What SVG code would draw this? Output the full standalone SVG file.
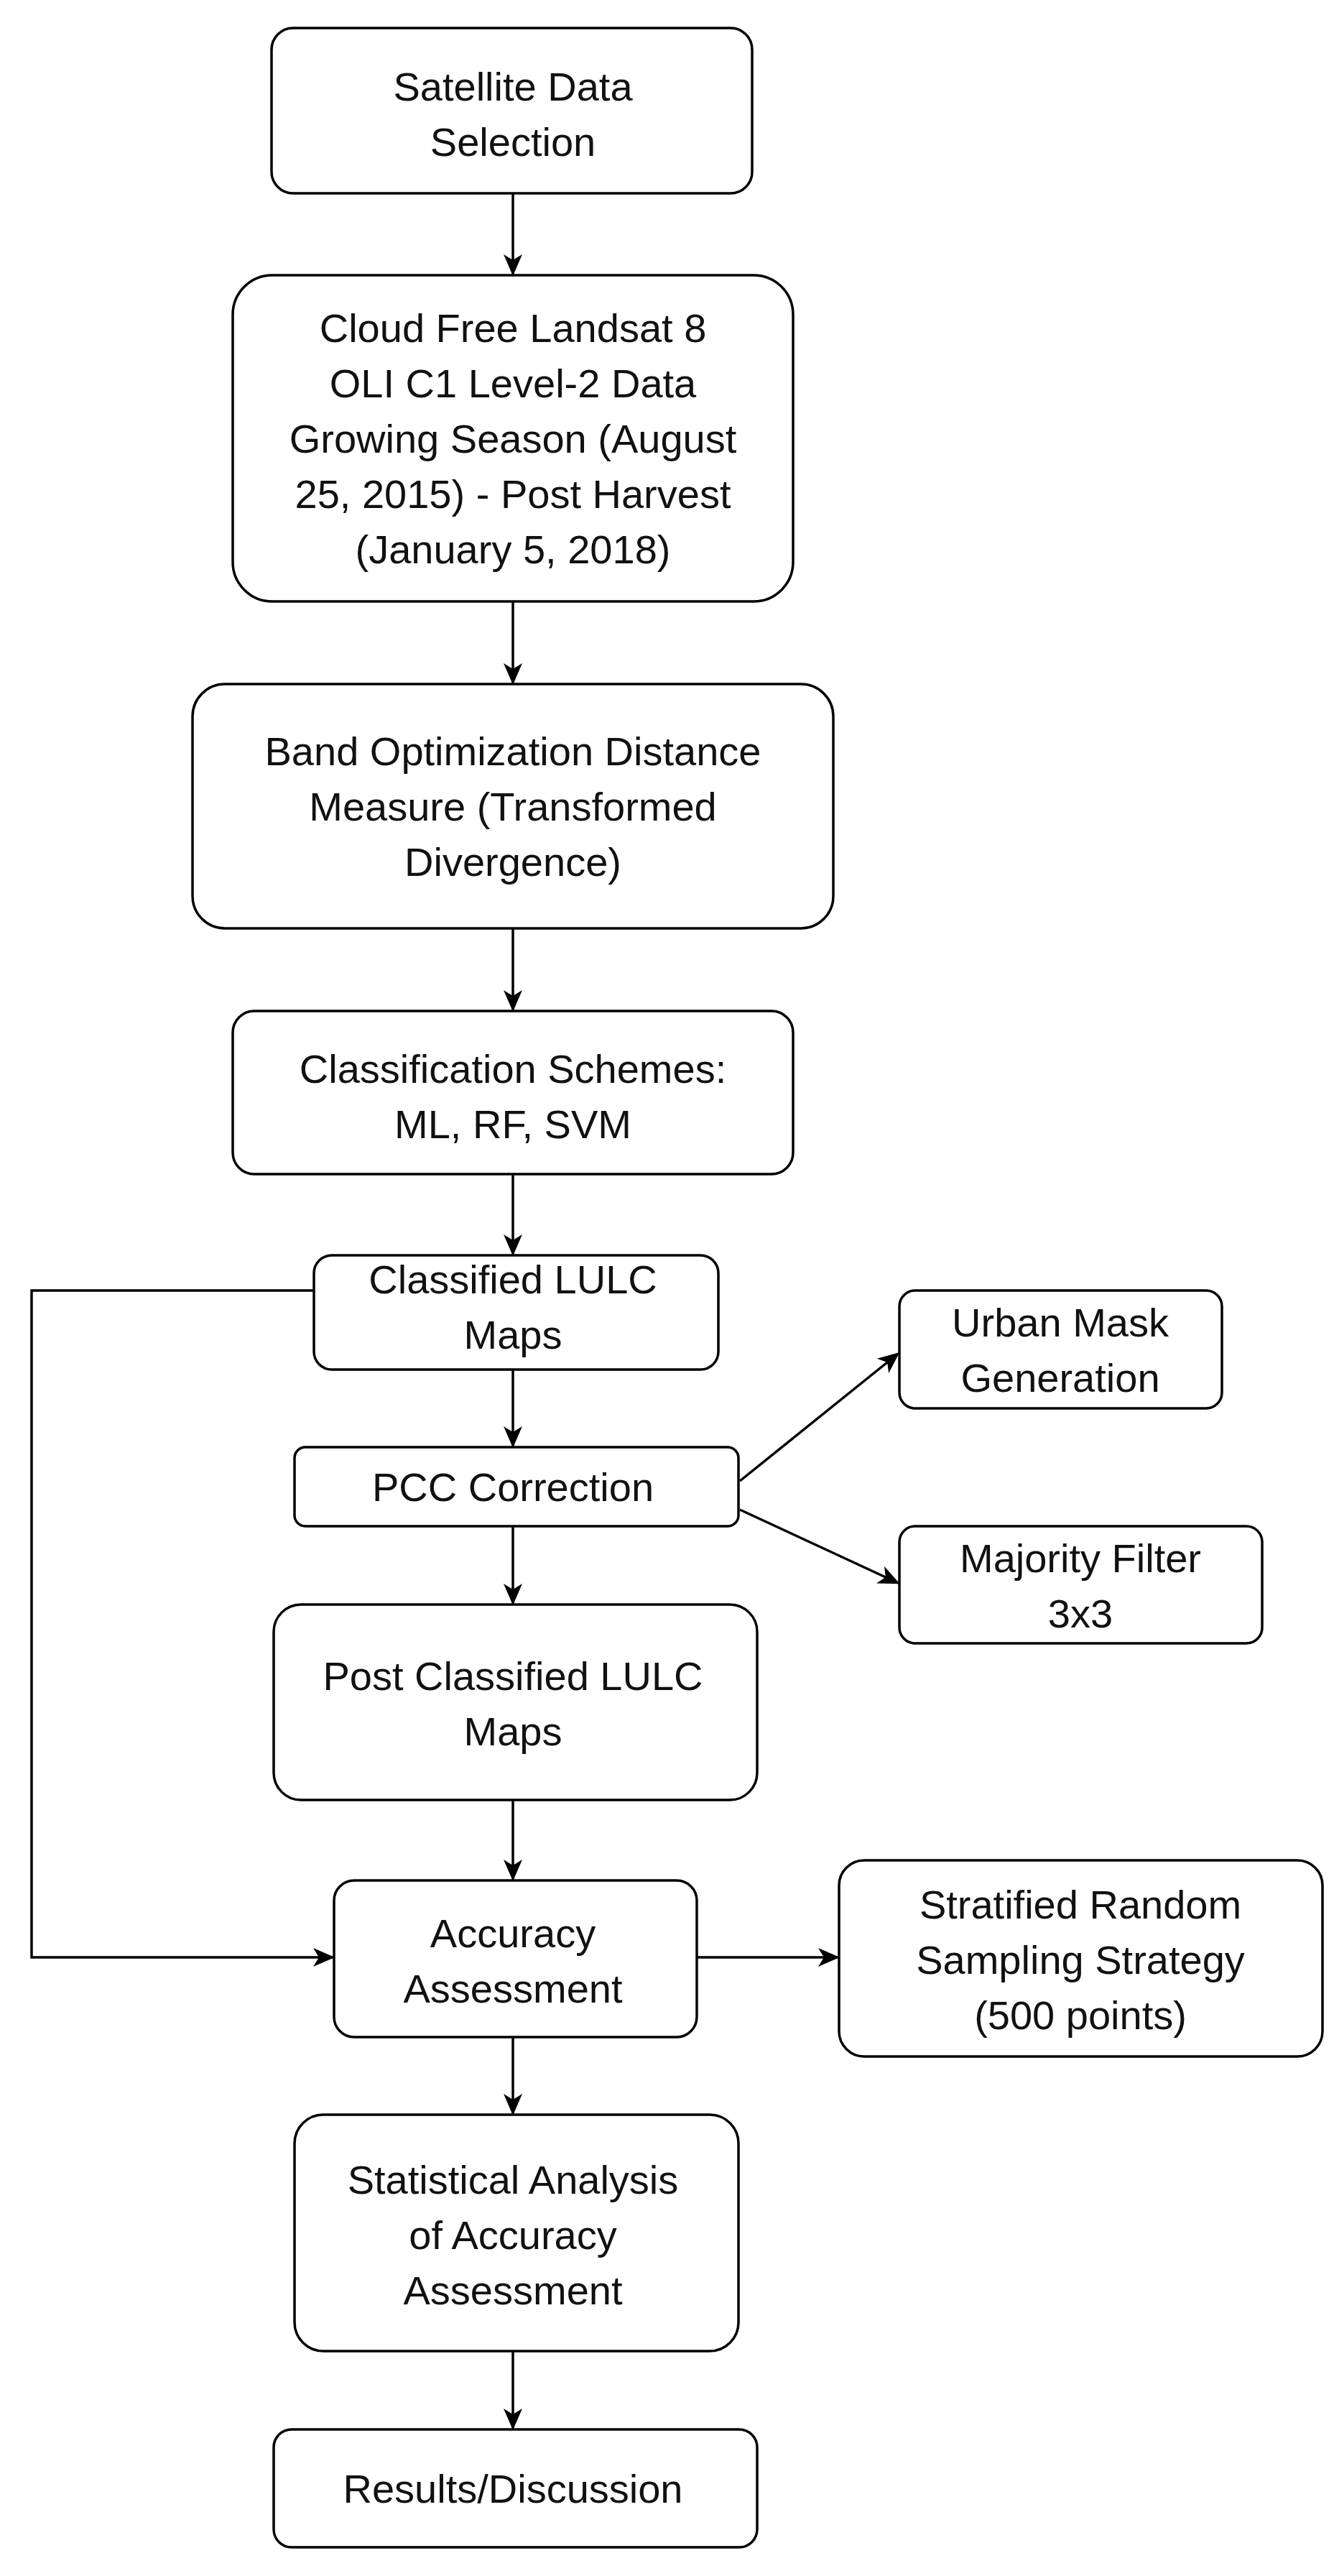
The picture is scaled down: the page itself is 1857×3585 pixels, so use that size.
<svg xmlns="http://www.w3.org/2000/svg" width="1857" height="3585" viewBox="0 0 1857 3585">
<style>
rect{fill:#fff;stroke:#000;stroke-width:3.5}
text{font-family:"Liberation Sans",Arial,sans-serif;font-size:56px;fill:#111;text-anchor:middle}
.c{fill:none;stroke:#000;stroke-width:3.5}
</style>
<defs><marker id="a" markerWidth="10" markerHeight="10" refX="8" refY="5" orient="auto" markerUnits="userSpaceOnUse" viewBox="0 0 10 10"><path d="M0,0 L10,5 L0,10 L3,5z" fill="#000"/></marker>
<marker id="b" markerWidth="30" markerHeight="30" refX="27" refY="15" orient="auto" markerUnits="userSpaceOnUse" viewBox="0 0 30 30"><path d="M0,2 L30,15 L0,28 L8,15z" fill="#000"/></marker></defs>
<rect width="1857" height="3585" style="stroke:none"/>
<g id="connectors">
<path class="c" marker-end="url(#b)" d="M714,269V381"/>
<path class="c" marker-end="url(#b)" d="M714,837V950"/>
<path class="c" marker-end="url(#b)" d="M714,1292V1405"/>
<path class="c" marker-end="url(#b)" d="M714,1634V1745"/>
<path class="c" marker-end="url(#b)" d="M714,1906V2012"/>
<path class="c" marker-end="url(#b)" d="M714,2124V2231"/>
<path class="c" marker-end="url(#b)" d="M714,2505V2615"/>
<path class="c" marker-end="url(#b)" d="M714,2835V2941"/>
<path class="c" marker-end="url(#b)" d="M714,3272V3379"/>
<path class="c" marker-end="url(#b)" d="M437,1796H44V2724H463"/>
<path class="c" marker-end="url(#b)" d="M970,2724H1166"/>
<path class="c" marker-end="url(#b)" d="M1030,2061L1250,1884"/>
<path class="c" marker-end="url(#b)" d="M1030,2101L1250,2203"/>
</g>
<g id="n1"><rect x="378" y="39" width="669" height="230" rx="30"/><text x="714" y="140">Satellite Data</text><text x="714" y="217">Selection</text></g>
<g id="n2"><rect x="324" y="383" width="780" height="454" rx="55"/><text x="714" y="476">Cloud Free Landsat 8</text><text x="714" y="553">OLI C1 Level-2 Data</text><text x="714" y="630">Growing Season (August</text><text x="714" y="707">25, 2015) - Post Harvest</text><text x="714" y="784">(January 5, 2018)</text></g>
<g id="n3"><rect x="268" y="952" width="892" height="340" rx="45"/><text x="714" y="1065">Band Optimization Distance</text><text x="714" y="1142">Measure (Transformed</text><text x="714" y="1219">Divergence)</text></g>
<g id="n4"><rect x="324" y="1407" width="780" height="227" rx="30"/><text x="714" y="1507">Classification Schemes:</text><text x="714" y="1584">ML, RF, SVM</text></g>
<g id="n5"><rect x="437" y="1747" width="563" height="159" rx="25"/><text x="714" y="1800">Classified LULC</text><text x="714" y="1877">Maps</text></g>
<g id="n6"><rect x="410" y="2014" width="618" height="110" rx="15"/><text x="714" y="2089">PCC Correction</text></g>
<g id="n7"><rect x="1252" y="1796" width="449" height="164" rx="22"/><text x="1476" y="1860">Urban Mask</text><text x="1476" y="1937">Generation</text></g>
<g id="n8"><rect x="1252" y="2124" width="505" height="163" rx="22"/><text x="1504" y="2188">Majority Filter</text><text x="1504" y="2265">3x3</text></g>
<g id="n9"><rect x="381" y="2233" width="673" height="272" rx="38"/><text x="714" y="2352">Post Classified LULC</text><text x="714" y="2429">Maps</text></g>
<g id="n10"><rect x="465" y="2617" width="505" height="218" rx="28"/><text x="714" y="2710">Accuracy</text><text x="714" y="2787">Assessment</text></g>
<g id="n11"><rect x="1168" y="2589" width="673" height="273" rx="35"/><text x="1504" y="2670">Stratified Random</text><text x="1504" y="2747">Sampling Strategy</text><text x="1504" y="2824">(500 points)</text></g>
<g id="n12"><rect x="410" y="2943" width="618" height="329" rx="40"/><text x="714" y="3053">Statistical Analysis</text><text x="714" y="3130">of Accuracy</text><text x="714" y="3207">Assessment</text></g>
<g id="n13"><rect x="381" y="3381" width="673" height="164" rx="25"/><text x="714" y="3483">Results/Discussion</text></g>
</svg>
